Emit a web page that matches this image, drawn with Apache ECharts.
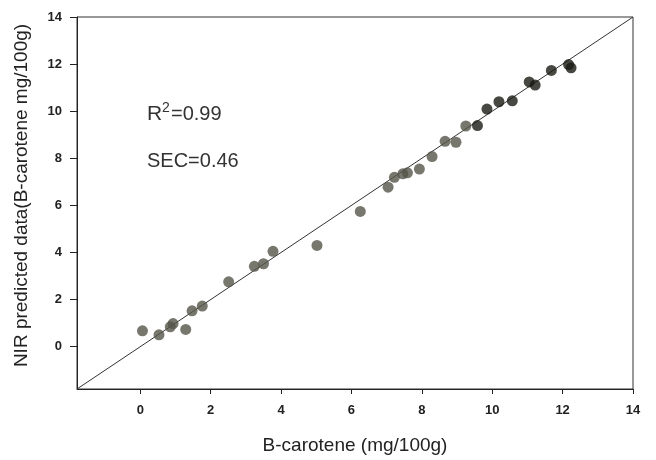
<!DOCTYPE html>
<html><head><meta charset="utf-8">
<script src="https://cdn.jsdelivr.net/npm/echarts@6/dist/echarts.min.js"></script>
<style>html,body{margin:0;padding:0;background:#fff}#c{width:656px;height:460px}</style>
</head><body><div id="c"></div>
<script>
const tickValues = [0, 2, 4, 6, 8, 10, 12, 14];
const grayPoints = [
  [0.06,0.67],[0.53,0.50],[0.85,0.84],[0.93,0.98],[1.29,0.73],[1.47,1.52],[1.76,1.72],
  [2.51,2.75],[3.24,3.41],[3.50,3.52],[3.77,4.05],[5.02,4.30],[6.25,5.74],[7.04,6.77],
  [7.22,7.19],[7.46,7.34],[7.59,7.38],[7.93,7.54],[8.29,8.07],[8.66,8.72],[8.97,8.68],
  [9.25,9.37]
];
const darkPoints = [
  [9.58,9.39],[9.85,10.09],[10.19,10.40],[10.57,10.44],[11.05,11.24],[11.22,11.11],
  [11.68,11.73],[12.17,11.98],[12.24,11.84]
];
const fitLine = [[-1.8,-1.8],[14,14]];
const stats = {r2: '0.99', sec: '0.46'};

const FF = 'Liberation Sans, Arial, sans-serif';
const chart = echarts.init(document.getElementById('c'));
const labelStyle = {color:'#222', fontFamily:FF, fontSize:13, fontWeight:'bold'};
chart.setOption({
  animation:false,
  grid:{left:77, right:23, top:17, bottom:67, show:true, borderColor:'#333', borderWidth:1, backgroundColor:'transparent'},
  xAxis:{type:'value', min:-1.8, max:14,
    name:'B-carotene (mg/100g)', nameLocation:'middle', nameGap:47,
    nameTextStyle:{color:'#222', fontFamily:FF, fontSize:19},
    axisLine:{show:true, onZero:false, lineStyle:{color:'#222', width:1}},
    axisTick:{show:true, inside:false, length:5, customValues:tickValues, lineStyle:{color:'#222'}},
    axisLabel:Object.assign({customValues:tickValues, margin:15}, labelStyle),
    splitLine:{show:false}},
  yAxis:{type:'value', min:-1.8, max:14,
    name:'NIR predicted data(B-carotene mg/100g)', nameLocation:'middle', nameGap:46,
    nameTextStyle:{color:'#222', fontFamily:FF, fontSize:19, padding:[0,0,0,15]},
    axisLine:{show:true, onZero:false, lineStyle:{color:'#222', width:1}},
    axisTick:{show:true, inside:false, length:7, customValues:tickValues, lineStyle:{color:'#222'}},
    axisLabel:Object.assign({customValues:tickValues, margin:15}, labelStyle),
    splitLine:{show:false}},
  graphic:[
    {type:'text', left:147, top:104, style:{text:'R', fontSize:21, fontFamily:FF, fill:'#333'}},
    {type:'text', left:162, top:101, style:{text:'2', fontSize:14, fontFamily:FF, fill:'#333'}},
    {type:'text', left:171, top:104, style:{text:'=' + stats.r2, fontSize:20, fontFamily:FF, fill:'#333'}},
    {type:'text', left:147, top:151, style:{text:'SEC=' + stats.sec, fontSize:20, fontFamily:FF, fill:'#333'}}
  ],
  series:[
    {type:'line', data:fitLine, symbol:'none', lineStyle:{color:'#333', width:1}, z:1},
    {type:'scatter', data:grayPoints, symbolSize:11, itemStyle:{color:'#55554a'}, z:3},
    {type:'scatter', data:darkPoints, symbolSize:11, itemStyle:{color:'#1a1a14'}, z:3}
  ]
});
</script></body></html>
